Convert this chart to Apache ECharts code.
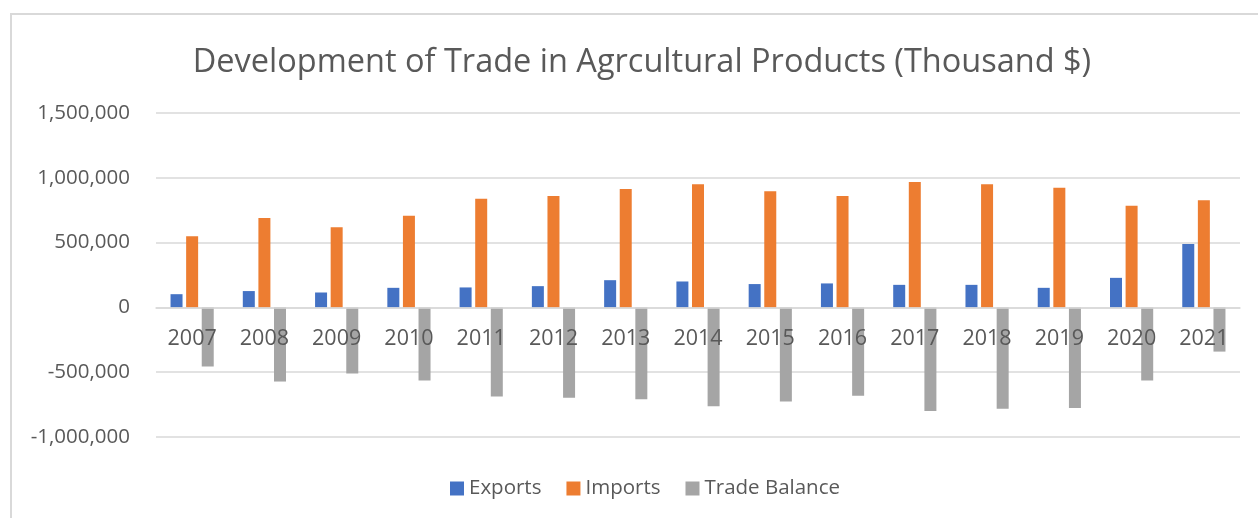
<!DOCTYPE html>
<html>
<head>
<meta charset="utf-8">
<script src="https://cdn.jsdelivr.net/npm/echarts@6/dist/echarts.min.js"></script>
<style>
  html, body { margin: 0; padding: 0; background: #ffffff; }
  #chart { width: 1258px; height: 518px; }
</style>
</head>
<body>
<div id="chart"></div>
<script>
const years = ['2007','2008','2009','2010','2011','2012','2013','2014','2015','2016','2017','2018','2019','2020','2021'];
const exportsData = [102000, 126000, 115000, 151000, 154000, 164000, 210000, 200000, 180000, 185000, 174000, 174000, 151000, 228000, 490000];
const importsData = [549000, 690000, 618000, 708000, 838000, 859000, 913000, 951000, 897000, 859000, 967000, 951000, 923000, 785000, 826000];
const balanceData = [-456000, -572000, -510000, -564000, -687000, -697000, -708000, -762000, -726000, -682000, -800000, -782000, -777000, -564000, -341000];
const yTicks = [-1000000, 1500000, 500000];

const FONT = 'Open Sans';
const GRID_TOP = 113, GRID_BOTTOM = 81, H = 518;
const plotH = H - GRID_TOP - GRID_BOTTOM;
// place category axis on the zero line
const zeroOffset = -((0 - yTicks[0]) / (yTicks[1] - yTicks[0])) * plotH;

const chart = echarts.init(document.getElementById('chart'), null, { renderer: 'canvas' });

function fmt(v) {
  return v.toLocaleString('en-US');
}

chart.setOption({
  animation: false,
  backgroundColor: '#ffffff',
  graphic: [{
    type: 'rect',
    shape: { x: 11, y: 14, width: 1300, height: 600 },
    style: { fill: 'none', stroke: '#d9d9d9', lineWidth: 2 },
    silent: true,
    z: -10
  }],
  title: {
    text: 'Development of Trade in Agrcultural Products (Thousand $)',
    left: 637,
    top: 41,
    textAlign: 'center',
    textStyle: { fontFamily: FONT, fontSize: 32.5, fontWeight: 'normal', color: '#595959' }
  },
  legend: {
    bottom: 14,
    left: 445,
    itemWidth: 14,
    itemHeight: 14,
    itemGap: 25,
    icon: 'rect',
    textStyle: { fontFamily: FONT, fontSize: 20.5, color: '#595959' },
    data: ['Exports', 'Imports', 'Trade Balance']
  },
  grid: { left: 156, right: 18, top: GRID_TOP, bottom: GRID_BOTTOM, containLabel: false },
  xAxis: {
    type: 'category',
    data: years,
    offset: zeroOffset,
    axisLine: { onZero: false, lineStyle: { color: '#d9d9d9', width: 1.5 } },
    axisTick: { show: false },
    axisLabel: { fontFamily: FONT, fontSize: 21.5, color: '#595959', margin: 20 },
    z: 10
  },
  yAxis: {
    type: 'value',
    min: yTicks[0],
    max: yTicks[1],
    interval: yTicks[2],
    axisLine: { show: false },
    axisTick: { show: false },
    splitLine: { lineStyle: { color: '#d9d9d9', width: 1.5 } },
    axisLabel: { fontFamily: FONT, fontSize: 20.5, color: '#595959', margin: 26, formatter: fmt }
  },
  series: [
    { name: 'Exports', type: 'bar', data: exportsData, barWidth: 12, barGap: '30%', itemStyle: { color: '#4472c4' }, z: 3 },
    { name: 'Imports', type: 'bar', data: importsData, barWidth: 12, barGap: '30%', itemStyle: { color: '#ed7d31' }, z: 3 },
    { name: 'Trade Balance', type: 'bar', data: balanceData, barWidth: 12, barGap: '30%', itemStyle: { color: '#a5a5a5' }, z: 3 }
  ]
});
</script>
</body>
</html>
